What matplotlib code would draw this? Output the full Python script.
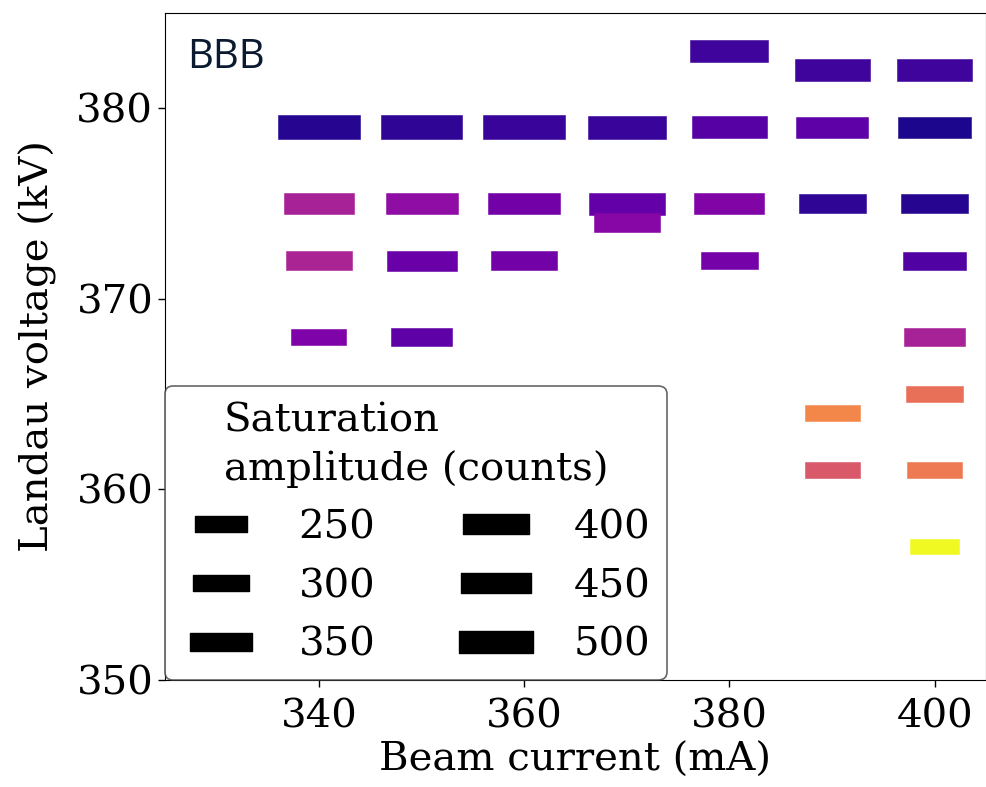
import numpy as np
import matplotlib
matplotlib.use('Agg')
from matplotlib import pyplot as plt
from matplotlib.path import Path
from matplotlib.lines import Line2D

# beam current (mA), Landau voltage (kV), saturation amplitude (counts), colour value
current = [340, 340, 340, 340,
           350, 350, 350, 350,
           360, 360, 360,
           370, 370, 370,
           380, 380, 380, 380,
           390, 390, 390, 390, 390,
           400, 400, 400, 400, 400, 400, 400, 400]
voltage = [379, 375, 372, 368,
           379, 375, 372, 368,
           379, 375, 372,
           379, 375, 374,
           383, 379, 375, 372,
           382, 379, 375, 364, 361,
           382, 379, 375, 372, 368, 365, 361, 357]
amplitude = [620, 455, 405, 280,
             620, 480, 455, 335,
             620, 480, 405,
             565, 535, 405,
             565, 520, 455, 310,
             520, 480, 415, 280, 280,
             520, 495, 415, 365, 345, 300, 280, 222]
colour = [0.04, 0.37, 0.38, 0.25,
          0.06, 0.30, 0.20, 0.17,
          0.08, 0.22, 0.22,
          0.08, 0.18, 0.27,
          0.09, 0.15, 0.26, 0.23,
          0.09, 0.17, 0.06, 0.71, 0.56,
          0.09, 0.02, 0.04, 0.14, 0.37, 0.64, 0.67, 1.0]

legend_amps = [250, 300, 350, 400, 450, 500]

plt.rcParams['font.family'] = 'DejaVu Serif'
fs = 29

# flat bar marker
h = 0.29
bar = Path([(-1, -h), (1, -h), (1, h), (-1, h), (-1, -h)],
           [Path.MOVETO, Path.LINETO, Path.LINETO, Path.LINETO, Path.CLOSEPOLY])
k = 5.6  # size factor

fig = plt.figure(figsize=(9.87, 7.87), dpi=100)
ax = fig.add_axes([165/987, 107/787, 821/987, 667/787])

ax.scatter(current, voltage, s=np.array(amplitude)*k, c=colour, cmap='plasma',
           vmin=0, vmax=1, marker=bar, linewidths=0.4, edgecolors='face')

ax.set_xlim(325, 405)
ax.set_ylim(350, 385)
ax.set_xticks([340, 360, 380, 400])
ax.set_yticks([350, 360, 370, 380])
ax.tick_params(labelsize=fs, length=5, width=1)
ax.tick_params(axis='x', pad=8)
ax.set_xlabel('Beam current (mA)', fontsize=fs, labelpad=5)
ax.set_ylabel('Landau voltage (kV)', fontsize=fs, labelpad=14)

handles = [Line2D([], [], marker=bar, ms=np.sqrt(a*k), color='k', ls='none')
           for a in legend_amps]
leg = ax.legend(handles, [str(a) for a in legend_amps], ncol=2, loc='lower left',
                title='Saturation\namplitude (counts)', fontsize=fs, title_fontsize=fs,
                borderaxespad=0.0, handlelength=2.0, handletextpad=0.92,
                columnspacing=2.0, labelspacing=0.54, edgecolor='0.25')
leg.get_title().set_linespacing(1.35)
leg.get_frame().set_linewidth(1.2)

fig.text(187/987, 1 - 68/787, 'BBB', fontsize=29, family='Open Sans',
         color='#0b1a30', va='baseline')

fig.savefig('out.png', dpi=100)
